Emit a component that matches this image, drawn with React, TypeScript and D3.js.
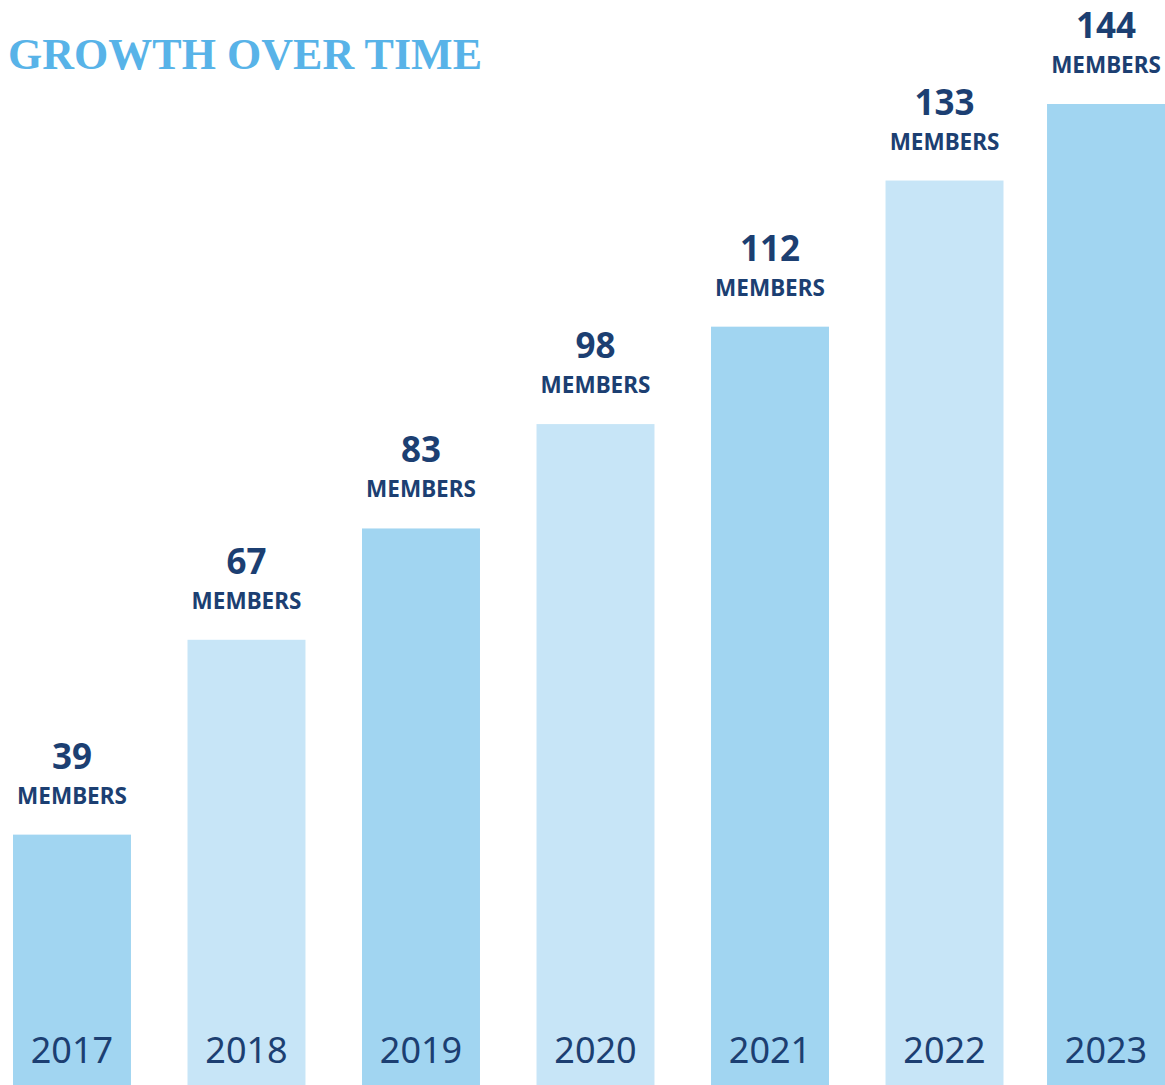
import React, { useEffect } from "react";
import * as d3 from "d3";

const years = ["2017", "2018", "2019", "2020", "2021", "2022", "2023"];
const members = [39, 67, 83, 98, 112, 133, 144];
const shades = ["dark", "light", "dark", "light", "dark", "light", "dark"];
const title = "GROWTH OVER TIME";
const unitLabel = "MEMBERS";

const W = 1165;
const H = 1085;
const NAVY = "#1c3f72";
const COLORS: Record<string, string> = { dark: "#a1d5f1", light: "#c7e5f7" };

export default function App() {
  useEffect(() => {
    document.body.style.margin = "0";
  }, []);

  const x = d3
    .scaleBand<string>()
    .domain(years)
    .range([13, 1178])
    .paddingInner(0.324)
    .paddingOuter(0);
  const bw = x.bandwidth();
  const y = d3.scaleLinear().domain([0, 144]).range([1106, 104]);
  const sans = "'Noto Sans', 'Open Sans', sans-serif";

  return (
    <svg width={W} height={H} style={{ display: "block" }}>
      <text
        x={8}
        y={69}
        fontFamily="'Liberation Serif', 'DejaVu Serif', serif"
        fontWeight={700}
        fontSize={44}
        fill="#58b3e8"
        textLength={474}
        lengthAdjust="spacing"
      >
        {title}
      </text>
      {years.map((yr, i) => {
        const x0 = Math.min(x(yr) as number, W - bw);
        const cx = x0 + bw / 2;
        const top = y(members[i]);
        return (
          <g key={yr}>
            <rect x={x0} y={top} width={bw} height={H - top} fill={COLORS[shades[i]]} />
            <text
              x={cx}
              y={top - 66}
              textAnchor="middle"
              fontFamily={sans}
              fontWeight={700}
              fontSize={35}
              fill={NAVY}
            >
              {members[i]}
            </text>
            <text
              x={cx}
              y={top - 31}
              textAnchor="middle"
              fontFamily={sans}
              fontWeight={700}
              fontSize={22.5}
              fill={NAVY}
            >
              {unitLabel}
            </text>
            <text
              x={cx}
              y={1063}
              textAnchor="middle"
              fontFamily={sans}
              fontWeight={400}
              fontSize={36}
              fill={NAVY}
            >
              {yr}
            </text>
          </g>
        );
      })}
    </svg>
  );
}
